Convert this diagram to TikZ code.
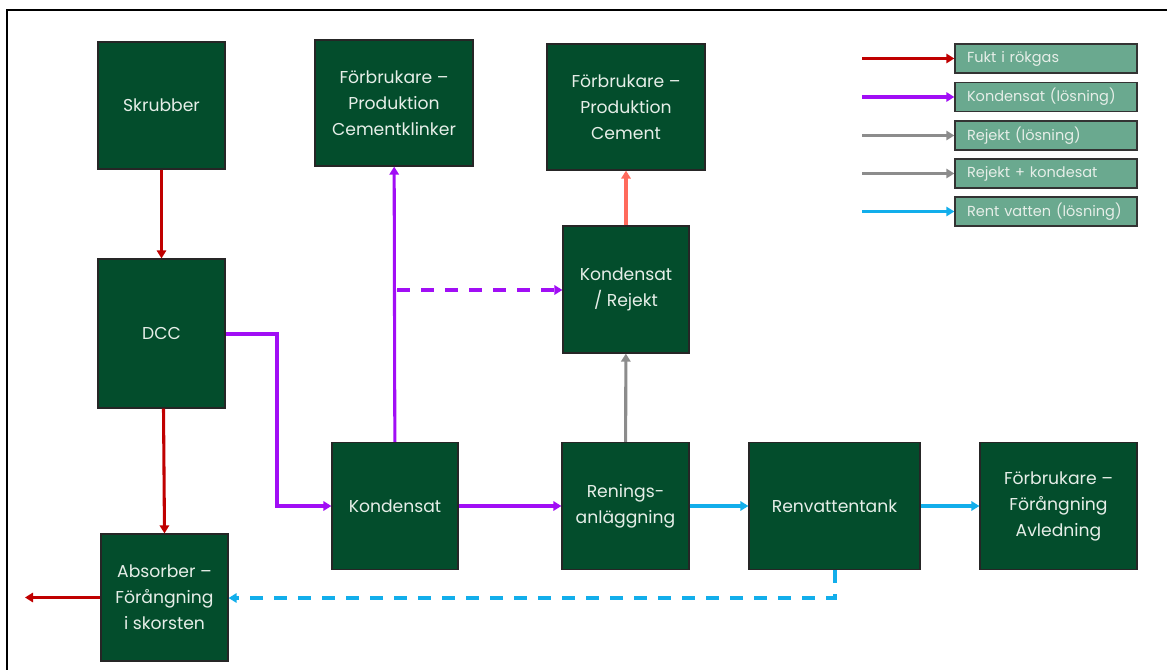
\documentclass[tikz,border=0pt]{standalone}
\usepackage{fontspec}
\setmainfont{Poppins}
\usetikzlibrary{arrows.meta}
\newlength\pxu
\setlength\pxu{0.75pt}
\definecolor{boxgreen}{HTML}{034D2C}
\definecolor{legfill}{HTML}{6AA98F}
\definecolor{txtw}{HTML}{E6EEE8}
\definecolor{cred}{HTML}{C00000}
\definecolor{cpurp}{HTML}{A10EF5}
\definecolor{cgray}{HTML}{8C8C8C}
\definecolor{ccyan}{HTML}{12AEEB}
\definecolor{csalm}{HTML}{FF6A5C}
\begin{document}
\begin{tikzpicture}[x=0.75pt,y=-0.75pt,
  blk/.style={draw=black!85,line width=0.9pt,fill=boxgreen,text=txtw,align=center,inner sep=0pt,
    minimum height=127\pxu,font=\fontsize{12.9}{19.5}\selectfont},
  leg/.style={draw=black!80,line width=1pt,fill=legfill,text=txtw,inner ysep=0pt,inner xsep=12\pxu,
    text width=158\pxu,align=left,minimum width=182\pxu,minimum height=29\pxu,font=\fontsize{10.9}{12}\selectfont},
  con/.style={line width=2.3pt,-{Triangle[length=6pt,width=7pt]}},
  dcon/.style={con,dash pattern=on 10pt off 8pt}]
\useasboundingbox (0,0) rectangle (1167,670);
\draw[line width=1.6pt] (7,670) -- (7,10) -- (1167,10);

\node[blk,minimum width=127\pxu] (skr) at (161.5,105.5) {Skrubber};
\node[blk,minimum width=127\pxu,minimum height=149\pxu] (dcc) at (161.5,333.5) {DCC};
\node[blk,minimum width=127\pxu] (abs) at (164.5,597.5) {Absorber –\\Förångning\\i skorsten};
\node[blk,minimum width=158\pxu,minimum height=126\pxu] (fck) at (394,103) {Förbrukare –\\Produktion\\Cementklinker};
\node[blk,minimum width=158\pxu,minimum height=126\pxu] (fc) at (626,107) {Förbrukare –\\Produktion\\Cement};
\node[blk,minimum width=126\pxu] (kr) at (626,289.5) {Kondensat\\/ Rejekt};
\node[blk,minimum width=126\pxu] (kon) at (395,506) {Kondensat};
\node[blk,minimum width=127\pxu] (ren) at (625.5,506) {Renings-\\anläggning};
\node[blk,minimum width=171\pxu] (rvt) at (834.5,506) {Renvattentank};
\node[blk,minimum width=157\pxu] (fav) at (1058.5,506) {Förbrukare –\\Förångning\\Avledning};

\coordinate (absout) at (25,597.5);
\coordinate (dccr) at (277,334);
\coordinate (kbr) at (395,290);
\coordinate (rvb) at (835,598);

\draw[con,cred] (skr) -- (dcc);
\draw[con,cred] (dcc.south) ++(2,0) -- (abs.north);
\draw[con,cred] (abs) -- (absout);
\draw[con,cpurp] (dcc.east |- dccr) -- (dccr) |- (kon.west);
\draw[con,cpurp] (kon) -- (fck);
\draw[dcon,cpurp] ([xshift=2\pxu]kbr) -- (kr.west |- kbr);
\draw[con,cpurp] (kon) -- (ren);
\draw[con,cgray] (ren) -- (kr);
\draw[con,csalm] (kr) -- (fc);
\draw[con,ccyan] (ren) -- (rvt);
\draw[con,ccyan] (rvt) -- (fav);
\draw[dcon,ccyan] (rvt.south -| rvb) -- (rvb) -- (abs.east |- rvb);

\node[leg] (l1) at (1046,58.5) {Fukt i rökgas};
\node[leg] (l2) at (1046,97) {Kondensat (lösning)};
\node[leg] (l3) at (1046,135.5) {Rejekt (lösning)};
\node[leg] (l4) at (1046,173.5) {Rejekt + kondesat};
\node[leg] (l5) at (1046,211.5) {Rent vatten (lösning)};
\coordinate (a1) at (862,58.5);
\coordinate (a2) at (862,97);
\coordinate (a3) at (862,135.5);
\coordinate (a4) at (862,173.5);
\coordinate (a5) at (862,211.5);
\draw[con,cred] (a1) -- (l1.west);
\draw[con,cpurp] (a2) -- (l2.west);
\draw[con,cgray] (a3) -- (l3.west);
\draw[con,cgray] (a4) -- (l4.west);
\draw[con,ccyan] (a5) -- (l5.west);
\end{tikzpicture}
\end{document}
